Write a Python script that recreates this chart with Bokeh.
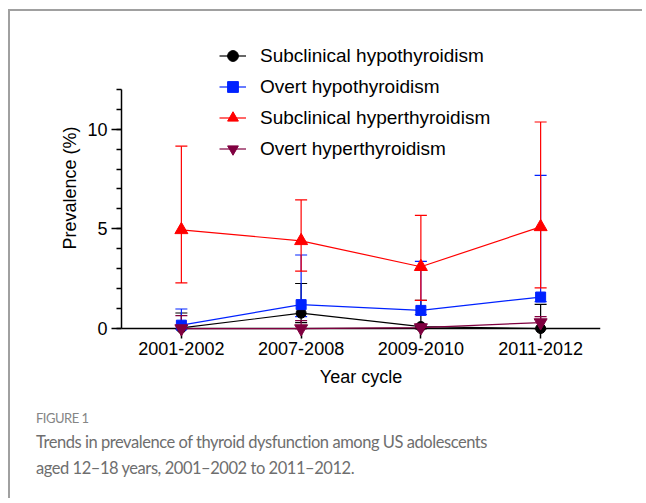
from bokeh.plotting import figure
from bokeh.layouts import column
from bokeh.models import (Range1d, FactorRange, SingleIntervalTicker, Whisker, TeeHead,
                          ColumnDataSource, Legend, LegendItem, Div, Span)
from bokeh.embed import file_html
from bokeh.resources import INLINE

cycles = ["2001-2002", "2007-2008", "2009-2010", "2011-2012"]

sub_hypo = [0.03, 0.77, 0.10, 0.0]
sub_hypo_lo = [0.0, 0.30, 0.0, 0.0]
sub_hypo_hi = [0.78, 2.26, 1.41, 1.21]

overt_hypo = [0.17, 1.20, 0.91, 1.58]
overt_hypo_lo = [0.0, 0.60, 0.70, 1.35]
overt_hypo_hi = [0.98, 3.69, 3.37, 7.68]

sub_hyper = [4.95, 4.40, 3.10, 5.10]
sub_hyper_lo = [2.29, 2.88, 1.41, 2.04]
sub_hyper_hi = [9.15, 6.45, 5.68, 10.36]

overt_hyper = [0.0, 0.0, 0.05, 0.30]
overt_hyper_lo = [0.0, 0.0, 0.0, 0.0]
overt_hyper_hi = [0.65, 0.40, 0.05, 0.60]

figure_label = "FIGURE 1"
caption_lines = ["Trends in prevalence of thyroid dysfunction among US adolescents",
                 "aged 12\u201318 years, 2001\u20132002 to 2011\u20132012."]

series = [
    ("Subclinical hypothyroidism", sub_hypo, sub_hypo_lo, sub_hypo_hi, "#000000", "circle", 10),
    ("Overt hypothyroidism", overt_hypo, overt_hypo_lo, overt_hypo_hi, "#0022FF", "square", 10),
    ("Subclinical hyperthyroidism", sub_hyper, sub_hyper_lo, sub_hyper_hi, "#FF0000", "triangle", 13),
    ("Overt hyperthyroidism", overt_hyper, overt_hyper_lo, overt_hyper_hi, "#800040", "inverted_triangle", 13),
]

FONT = "Liberation Sans"
BORDER = "2px solid #a0a0a0"
W = 634

p = figure(width=W, height=384,
           x_range=FactorRange(factors=cycles, range_padding=0),
           y_range=Range1d(-0.6, 14.7),
           output_backend="svg", toolbar_location=None,
           min_border_left=111, min_border_right=W - 111 - 479,
           min_border_top=24, min_border_bottom=55)
p.outline_line_color = None
p.xgrid.visible = False
p.ygrid.visible = False
p.styles = {"border-top": BORDER, "border-left": BORDER}

# x axis line at zero
p.add_layout(Span(location=0, dimension="width", line_color="#000000", line_width=1.5))

items = []
for name, vals, lo, hi, color, marker, size in series:
    src = ColumnDataSource(dict(x=cycles, y=vals, lo=lo, hi=hi))
    w = Whisker(base="x", upper="hi", lower="lo", source=src, dimension="height",
                line_color=color, line_width=1.2,
                upper_head=TeeHead(size=12, line_color=color, line_width=1.2),
                lower_head=TeeHead(size=12, line_color=color, line_width=1.2))
    p.add_layout(w)
    lr = p.line("x", "y", source=src, line_color=color, line_width=1.2, level="overlay")
    sr = p.scatter("x", "y", source=src, marker=marker, size=size,
                   fill_color=color, line_color=color, level="overlay")
    items.append(LegendItem(label=name, renderers=[lr, sr]))

legend = Legend(items=items, location=(98, 176), orientation="vertical",
                glyph_width=27, glyph_height=31, label_height=31, spacing=0,
                label_standoff=14, padding=0, margin=0,
                border_line_color=None, background_fill_alpha=0,
                label_text_font=FONT, label_text_font_size="19px",
                label_text_color="#000000", label_text_baseline="middle")
p.add_layout(legend, "center")

xa = p.xaxis[0]
xa.axis_label = "Year cycle"
xa.axis_label_text_font = FONT
xa.axis_label_text_font_size = "18px"
xa.axis_label_text_font_style = "normal"
xa.axis_label_text_color = "#000000"
xa.axis_label_standoff = 9
xa.major_label_text_font = FONT
xa.major_label_text_font_size = "18px"
xa.major_label_text_color = "#000000"
xa.major_label_standoff = 1
xa.major_tick_in = 12
xa.major_tick_out = -2
xa.minor_tick_in = 0
xa.minor_tick_out = 0
xa.axis_line_color = None
xa.major_tick_line_width = 1.5
xa.major_tick_line_color = "#000000"

ya = p.yaxis[0]
ya.ticker = SingleIntervalTicker(interval=5, num_minor_ticks=5)
ya.bounds = (0, 12)
ya.axis_label = "Prevalence (%)"
ya.axis_label_text_font = FONT
ya.axis_label_text_font_size = "18px"
ya.axis_label_text_font_style = "normal"
ya.axis_label_text_color = "#000000"
ya.axis_label_standoff = 4
ya.major_label_text_font = FONT
ya.major_label_text_font_size = "18px"
ya.major_label_text_color = "#000000"
ya.major_label_standoff = 4
ya.major_tick_out = 10
ya.major_tick_in = 0
ya.minor_tick_out = 5
ya.minor_tick_in = 0
ya.axis_line_width = 1.5
ya.major_tick_line_width = 1.5
ya.minor_tick_line_width = 1.5
ya.axis_line_color = "#000000"
ya.major_tick_line_color = "#000000"
ya.minor_tick_line_color = "#000000"

cap_html = (
    '<div style="font-family: Lato, sans-serif; padding-left: 26px; margin: 0;">'
    '<div style="font-size: 13px; letter-spacing: -0.5px; line-height: 16px; color: #858585; '
    'margin-top: 17px;">' + figure_label + '</div>'
    '<div style="font-size: 16.5px; letter-spacing: -0.45px; line-height: 26px; color: #6e6e6e; '
    'margin-top: 3px; white-space: nowrap;">' + caption_lines[0] + '<br>' + caption_lines[1] +
    '</div></div>'
)
cap = Div(text=cap_html, width=W, height=105, margin=0, styles={"border-left": BORDER})

layout = column(p, cap, spacing=0)
layout.styles = {"margin-left": "8px", "margin-top": "9px"}

open("out.html", "w").write(file_html(layout, INLINE))
